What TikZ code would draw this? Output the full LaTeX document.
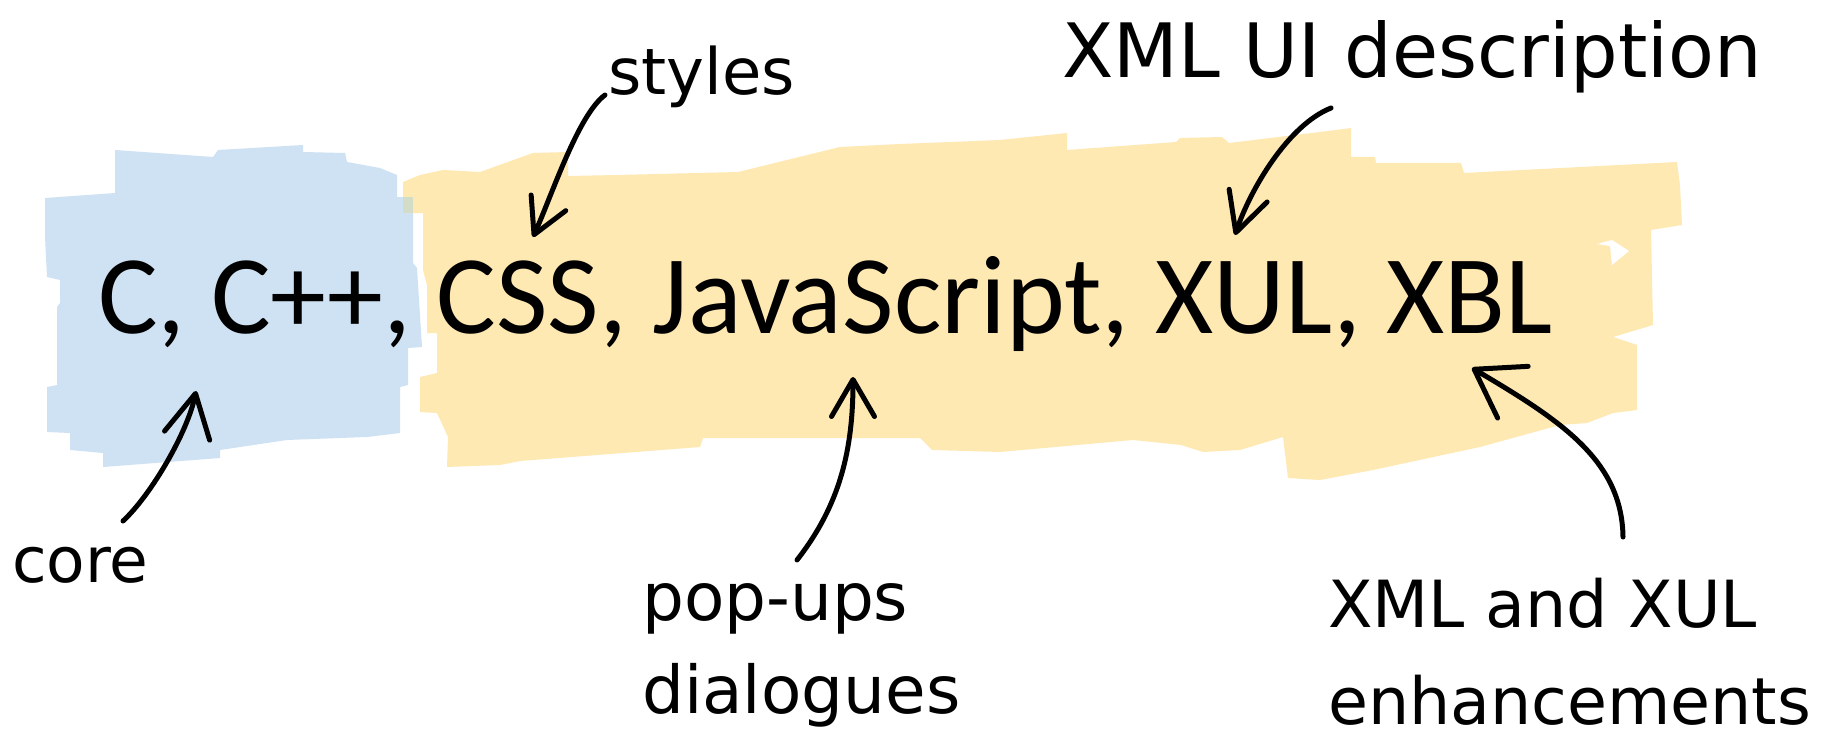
\documentclass[tikz,border=0pt]{standalone}
\usepackage{fontspec}
\setmainfont{Carlito}
\newfontfamily\handfont{DejaVu Sans}
\usetikzlibrary{arrows.meta}
\definecolor{blobblue}{HTML}{CFE2F3}
\definecolor{blobyellow}{HTML}{FFE9B3}
\definecolor{blobmix}{HTML}{D3DCC6}
\begin{document}
\begin{tikzpicture}[x=1pt,y=-1pt,
  mainlbl/.style={inner sep=0pt, anchor=base west, font=\fontsize{112}{130}\selectfont},
  handlbl/.style={inner sep=0pt, anchor=base west, align=left},
  conn/.style={line width=5pt, line cap=round, line join=round, black}]
\fill[white] (0,0) rectangle (1832,741);
\useasboundingbox (0,0) rectangle (1832,741);
% blue blob
\fill[blobblue] (115,150) -- (213,157) -- (218,150) -- (303,145) -- (303,152) -- (345,153) -- (347,162)
  -- (380,168) -- (397,175) -- (397,197) -- (413,197) -- (413,263) -- (417,268) -- (422,347) -- (408,348)
  -- (408,385) -- (400,387) -- (400,433) -- (367,437) -- (287,440) -- (220,450) -- (220,458) -- (103,467)
  -- (103,453) -- (70,450) -- (70,433) -- (47,432) -- (47,387) -- (57,385) -- (57,307) -- (60,303)
  -- (60,280) -- (47,277) -- (45,237) -- (45,198) -- (115,193) -- cycle;
% yellow blob
\fill[blobyellow] (403,182) -- (420,175) -- (443,170) -- (480,172) -- (533,153) -- (568,152) -- (568,176)
  -- (617,175) -- (738,172) -- (840,147) -- (900,144) -- (1000,140) -- (1067,133) -- (1067,150)
  -- (1176,142) -- (1180,138) -- (1222,137) -- (1229,143) -- (1336,130) -- (1351,128) -- (1351,157)
  -- (1375,157) -- (1376,163) -- (1461,163) -- (1464,173) -- (1677,162) -- (1680,185) -- (1682,225)
  -- (1651,230) -- (1653,325) -- (1613,337) -- (1637,345) -- (1637,410) -- (1613,413) -- (1587,423)
  -- (1560,425) -- (1480,447) -- (1373,470) -- (1320,480) -- (1288,478) -- (1283,437) -- (1240,450)
  -- (1203,452) -- (1181,445) -- (1133,440) -- (1000,452) -- (932,450) -- (920,438) -- (717,438)
  -- (703,438) -- (700,447) -- (520,461) -- (500,465) -- (447,467) -- (448,437) -- (437,413)
  -- (420,412) -- (420,377) -- (437,373) -- (437,333) -- (427,333) -- (427,285) -- (423,270)
  -- (423,213) -- (403,213) -- cycle;
\fill[blobmix] (403,197) rectangle (413,213);
\fill[white] (1597,244) -- (1612,240) -- (1629,251) -- (1612,265) -- (1610,246) -- cycle;
% texts
\node[mainlbl] (langs) at (98.5,333) {C, C++, CSS, JavaScript, XUL, XBL};
\node[handlbl, font=\handfont\fontsize{64}{80}\selectfont] (styles) at (608,95) {styles};
\node[handlbl, font=\handfont\fontsize{75}{90}\selectfont] (xmlui) at (1062,78) {XML UI description};
\node[handlbl, font=\handfont\fontsize{63}{80}\selectfont] (core) at (12,582) {core};
\node[handlbl, font=\handfont\fontsize{66}{93}\selectfont] (popups) at (642,713) {pop-ups\\dialogues};
\node[handlbl, font=\handfont\fontsize{65}{97}\selectfont] (xmlxul) at (1328,724) {XML and XUL\\enhancements};
% connectors
\coordinate (coreTail) at (123,521);
\coordinate (coreTip) at (196,391);
\coordinate (stylesTail) at (605,95);
\coordinate (stylesTip) at (533,237);
\coordinate (xmluiTail) at (1331,108);
\coordinate (xmluiTip) at (1235,235);
\coordinate (popTail) at (797,560);
\coordinate (popTip) at (853,377);
\coordinate (xulTail) at (1623,537);
\coordinate (xulTip) at (1472,368);
\draw[conn, -{Straight Barb[length=43pt,width=46pt,round]}] (coreTail) .. controls (152,494) and (188,431) .. (coreTip);
\draw[conn, -{Straight Barb[length=35pt,width=38pt,round]}] (stylesTail) .. controls (578,115) and (552,195) .. (stylesTip);
\draw[conn, -{Straight Barb[length=39pt,width=40pt,round]}] (xmluiTail) .. controls (1288,125) and (1250,190) .. (xmluiTip);
\draw[conn, -{Straight Barb[length=37pt,width=43pt,round]}] (popTail) .. controls (840,505) and (853,450) .. (popTip);
\draw[conn, -{Straight Barb[length=45pt,width=60pt,round]}] (xulTail) .. controls (1622,460) and (1560,420) .. (xulTip);
\end{tikzpicture}
\end{document}
